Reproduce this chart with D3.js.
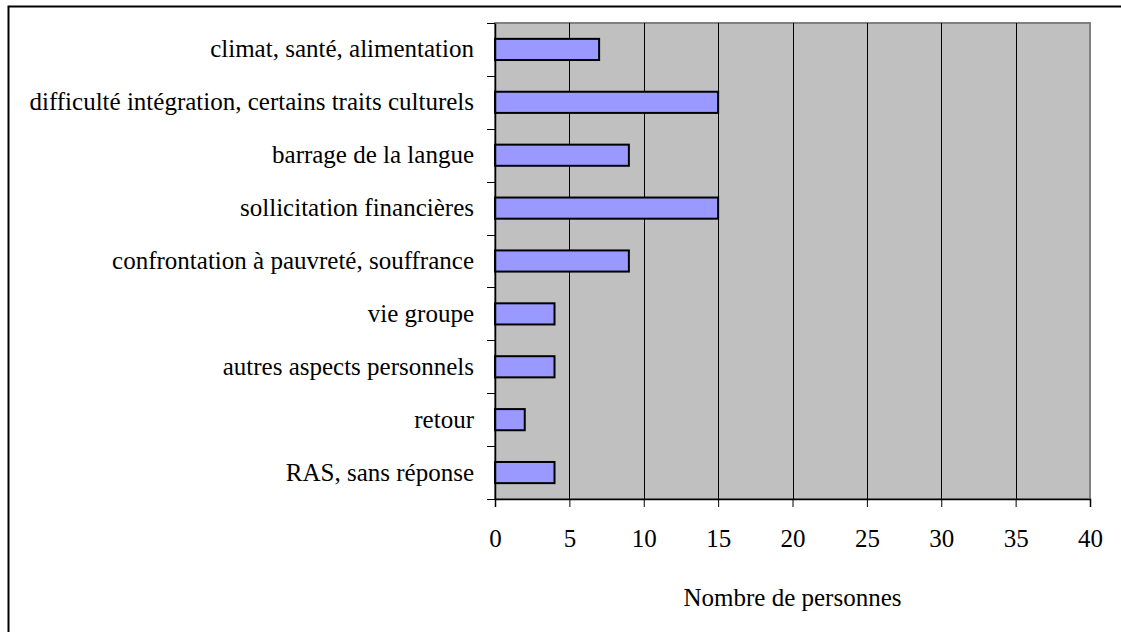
<!DOCTYPE html>
<html>
<head>
<meta charset="utf-8">
<script src="https://cdn.jsdelivr.net/npm/d3@7"></script>
<style>
  body { margin: 0; background: #fff; }
  svg { display: block; }
</style>
</head>
<body>
<div id="chart"></div>
<script>
var categories = [
  "climat, santé, alimentation",
  "difficulté intégration, certains traits culturels",
  "barrage de la langue",
  "sollicitation financières",
  "confrontation à pauvreté, souffrance",
  "vie groupe",
  "autres aspects personnels",
  "retour",
  "RAS, sans réponse"
];
var values = [7, 15, 9, 15, 9, 4, 4, 2, 4];
var xTicks = [0, 5, 10, 15, 20, 25, 30, 35, 40];
var xTitle = "Nombre de personnes";

var width = 1121, height = 632;
var plot = { left: 495, top: 23, right: 1090, bottom: 499 };
var font = "'Liberation Serif', 'Times New Roman', serif";
var fontSize = 25;

var svg = d3.select("#chart").append("svg")
  .attr("width", width)
  .attr("height", height);

// outer frame
svg.append("rect")
  .attr("x", 8.5).attr("y", 6.5)
  .attr("width", 1200).attr("height", 700)
  .attr("fill", "none")
  .attr("stroke", "#000")
  .attr("stroke-width", 2);

var x = d3.scaleLinear().domain([0, 40]).range([plot.left, plot.right]);
var y = d3.scaleBand().domain(categories).range([plot.top, plot.bottom]).paddingInner(0.6).paddingOuter(0.3);
var yb = d3.scaleBand().domain(categories).range([plot.top, plot.bottom]);

// plot background
svg.append("rect")
  .attr("x", plot.left).attr("y", plot.top)
  .attr("width", plot.right - plot.left)
  .attr("height", plot.bottom - plot.top)
  .attr("fill", "#c0c0c0")
  .attr("stroke", "#808080")
  .attr("stroke-width", 2);

// gridlines
svg.append("g")
  .selectAll("line")
  .data(xTicks.slice(1, -1))
  .enter().append("line")
  .attr("x1", d => Math.round(x(d)) + 0.5)
  .attr("x2", d => Math.round(x(d)) + 0.5)
  .attr("y1", plot.top)
  .attr("y2", plot.bottom)
  .attr("stroke", "#000")
  .attr("stroke-width", 1);

// bars
svg.append("g")
  .selectAll("rect")
  .data(values)
  .enter().append("rect")
  .attr("x", x(0))
  .attr("y", (d, i) => y(categories[i]))
  .attr("width", d => x(d) - x(0))
  .attr("height", y.bandwidth())
  .attr("fill", "#9999ff")
  .attr("stroke", "#000")
  .attr("stroke-width", 2);

// y axis
var yAxis = d3.axisLeft(yb).tickSize(0).tickPadding(21);
var gy = svg.append("g")
  .attr("transform", "translate(" + plot.left + ",0)")
  .call(yAxis)
  .attr("font-family", font)
  .attr("font-size", fontSize);
gy.select(".domain").attr("stroke", "#000").attr("stroke-width", 1.5);
gy.selectAll("text").attr("fill", "#000");
gy.selectAll(".sep")
  .data(d3.range(categories.length + 1))
  .enter().append("line")
  .attr("class", "sep")
  .attr("x1", -8).attr("x2", 0)
  .attr("y1", d => Math.round(plot.top + d * yb.step()) + 0.5)
  .attr("y2", d => Math.round(plot.top + d * yb.step()) + 0.5)
  .attr("stroke", "#000");

// x axis
var xAxis = d3.axisBottom(x).tickValues(xTicks).tickSize(8).tickPadding(22);
var gx = svg.append("g")
  .attr("transform", "translate(0," + plot.bottom + ")")
  .call(xAxis)
  .attr("font-family", font)
  .attr("font-size", fontSize);
gx.select(".domain").attr("stroke", "#000").attr("stroke-width", 1.5);
gx.selectAll("text").attr("fill", "#000");

svg.append("text")
  .attr("x", (plot.left + plot.right) / 2)
  .attr("y", 606)
  .attr("text-anchor", "middle")
  .attr("font-family", font)
  .attr("font-size", fontSize)
  .text(xTitle);
</script>
</body>
</html>
